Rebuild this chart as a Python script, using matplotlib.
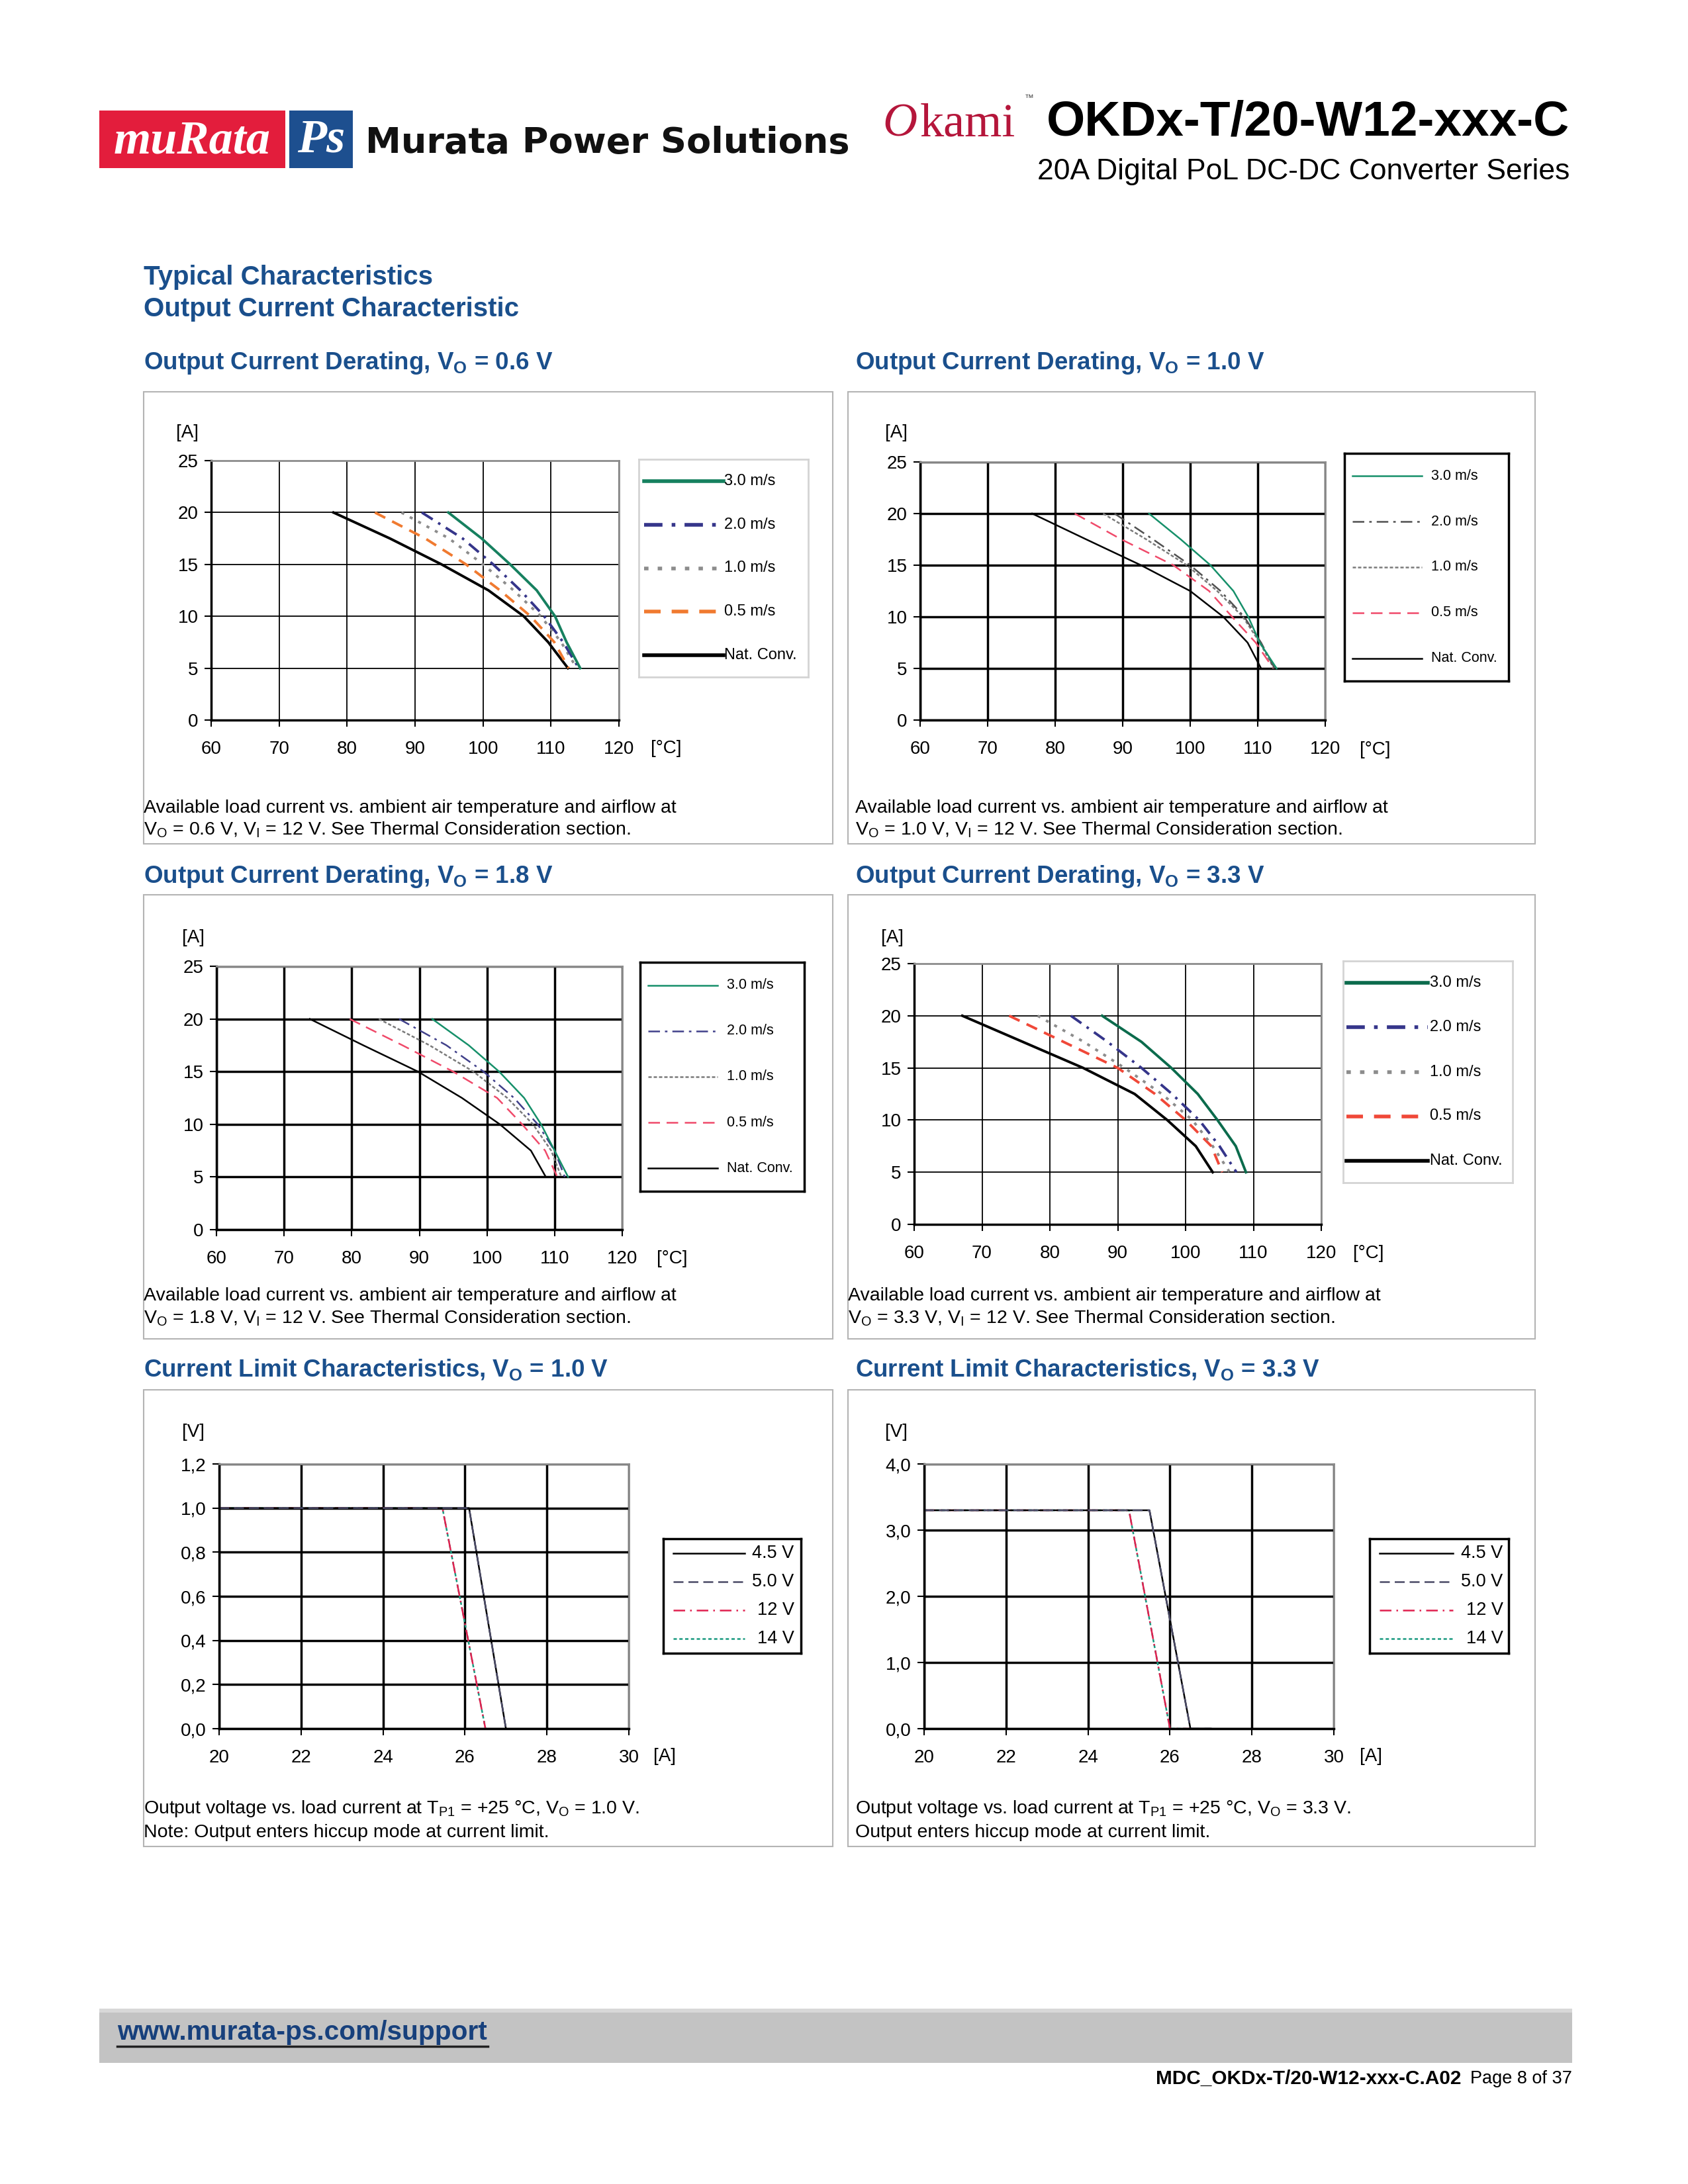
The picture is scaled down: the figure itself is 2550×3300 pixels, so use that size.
import matplotlib
matplotlib.use("Agg")
import matplotlib.pyplot as plt
from matplotlib.patches import Rectangle
from matplotlib.lines import Line2D

W, H = 2550, 3300

plt.rcParams['font.family'] = ['Liberation Sans', 'DejaVu Sans']
plt.rcParams['mathtext.fontset'] = 'custom'
plt.rcParams['mathtext.rm'] = 'Liberation Sans'
plt.rcParams['mathtext.it'] = 'Liberation Sans:italic'
plt.rcParams['mathtext.bf'] = 'Liberation Sans:bold'

BLUE = '#1a4f8c'

# ---------------- data ----------------
airflow = ['3.0 m/s', '2.0 m/s', '1.0 m/s', '0.5 m/s', 'Nat. Conv.']
derate_current = [20, 17.5, 15, 12.5, 10, 7.5, 5]   # [A]
temp_ticks = [60, 70, 80, 90, 100, 110, 120]
amp_ticks = [0, 5, 10, 15, 20, 25]

# ambient temperature [°C] at each current, Vo = 0.6 V
t06_30 = [94.9, 99.8, 104.0, 107.9, 110.6, 112.3, 114.3]
t06_20 = [91.0, 97.0, 101.5, 105.5, 109.0, 111.8, 114.1]
t06_10 = [88.0, 95.0, 100.0, 104.5, 108.5, 111.5, 113.8]
t06_05 = [84.1, 91.5, 97.5, 102.5, 107.0, 110.5, 112.6]
t06_nc = [78.0, 86.3, 93.9, 100.8, 106.0, 109.6, 112.5]

# Vo = 1.0 V
t10_30 = [93.9, 98.6, 103.0, 106.4, 108.6, 110.3, 112.8]
t10_20 = [88.8, 94.5, 100.0, 104.5, 108.0, 110.5, 112.5]
t10_10 = [87.1, 93.5, 99.5, 104.0, 107.8, 110.3, 112.4]
t10_05 = [82.9, 89.8, 97.5, 102.8, 106.2, 109.7, 112.3]
t10_nc = [76.6, 84.6, 92.7, 100.0, 104.9, 108.5, 110.5]

# Vo = 1.8 V
t18_30 = [91.9, 97.3, 101.8, 105.5, 108.0, 110.0, 112.0]
t18_20 = [87.0, 94.0, 99.5, 104.0, 107.5, 110.0, 111.5]
t18_10 = [84.0, 91.5, 98.0, 103.0, 106.8, 109.5, 111.0]
t18_05 = [79.7, 87.5, 95.0, 101.5, 105.2, 108.6, 110.4]
t18_nc = [73.8, 81.7, 89.8, 96.3, 101.9, 106.5, 108.7]

# Vo = 3.3 V
t33_30 = [87.7, 93.5, 97.9, 101.8, 104.7, 107.4, 108.9]
t33_20 = [83.1, 88.5, 93.5, 98.0, 102.0, 105.0, 107.5]
t33_10 = [78.2, 85.0, 91.0, 96.5, 101.0, 104.0, 106.5]
t33_05 = [74.0, 82.0, 90.0, 95.5, 100.0, 103.8, 105.4]
t33_nc = [67.1, 76.0, 84.9, 92.5, 97.3, 101.5, 104.0]

# current limit
vin = ['4.5 V', '5.0 V', '12 V', '14 V']
load_ticks = [20, 22, 24, 26, 28, 30]

cl10_i_low = [20, 26.1, 27.0]     # 4.5 V / 5.0 V input
cl10_i_high = [20, 25.45, 26.5]   # 12 V / 14 V input
cl10_v = [1.0, 1.0, 0.0]
cl10_yticks = [0, 0.2, 0.4, 0.6, 0.8, 1.0, 1.2]
cl10_ylabels = ['0,0', '0,2', '0,4', '0,6', '0,8', '1,0', '1,2']

cl33_i_low = [20, 25.5, 26.5, 27.0]
cl33_i_high = [20, 25.0, 26.0, 26.5]
cl33_v = [3.3, 3.3, 0.0, 0.0]
cl33_yticks = [0, 1, 2, 3, 4]
cl33_ylabels = ['0,0', '1,0', '2,0', '3,0', '4,0']

# ---------------- helpers ----------------
fig = plt.figure(figsize=(W / 100, H / 100), dpi=100)


def fbox(x0, y0, x1, y1):
    return [x0 / W, 1 - y1 / H, (x1 - x0) / W, (y1 - y0) / H]


def ftext(x, y, s, **kw):
    return fig.text(x / W, 1 - y / H, s, **kw)


def frame(x0, y0, x1, y1, ec='#b4b4b4', fc='none', lw=1.5):
    fig.patches.append(Rectangle((x0 / W, 1 - y1 / H), (x1 - x0) / W, (y1 - y0) / H,
                                 transform=fig.transFigure, fc=fc, ec=ec, lw=lw))


def fit_width(t, target):
    # shrink/grow a text so that it spans target pixels
    r = fig.canvas.get_renderer()
    w = t.get_window_extent(r).width
    t.set_fontsize(t.get_fontsize() * target / w)


def style_axes(ax, grid_lw, xticks, yticks, ylabels=None):
    ax.set_xticks(xticks)
    ax.set_yticks(yticks)
    if ylabels is not None:
        ax.set_yticklabels(ylabels)
    ax.grid(True, color='black', lw=grid_lw)
    ax.set_axisbelow(True)
    for s in ['top', 'right']:
        ax.spines[s].set_color('#8c8c8c')
        ax.spines[s].set_linewidth(2)
    for s in ['left', 'bottom']:
        ax.spines[s].set_color('black')
        ax.spines[s].set_linewidth(2.5)
    ax.tick_params(axis='x', direction='out', length=7, width=1.5, labelsize=20, pad=15)
    ax.tick_params(axis='y', direction='out', length=7, width=1.5, labelsize=20, pad=7)


def legend_box(box, labels, styles, fs, ec, elw, lx, tx, ha='left'):
    lax = fig.add_axes(fbox(*box))
    lax.set_xlim(0, 1)
    lax.set_ylim(0, 1)
    lax.set_xticks([])
    lax.set_yticks([])
    for s in lax.spines.values():
        s.set_color(ec)
        s.set_linewidth(elw)
    n = len(labels)
    for i, (lab, st) in enumerate(zip(labels, styles)):
        y = 1 - (i + 0.5) / n
        lax.add_line(Line2D(lx, [y, y], **st))
        lax.text(tx, y, lab, va='center', ha=ha, fontsize=fs)


def derating(box, temps, styles, grid_lw):
    ax = fig.add_axes(fbox(*box))
    for t, st in list(zip(temps, styles))[::-1]:
        ax.plot(t, derate_current, **st)
    ax.set_xlim(60, 120)
    ax.set_ylim(0, 25)
    style_axes(ax, grid_lw, temp_ticks, amp_ticks)
    return ax


# styles: heavy (Vo=0.6/3.3) and light (Vo=1.0/1.8)
def heavy_styles(c05):
    return [dict(color='#16805f', lw=2.8, ls='-'),
            dict(color='#35358a', lw=2.8, dashes=(5, 2.5, 1, 2.5)),
            dict(color='#8c8c8c', lw=2.8, dashes=(1.2, 2.5)),
            dict(color=c05, lw=2.8, dashes=(4.5, 3)),
            dict(color='black', lw=2.8, ls='-')]


def light_styles(c20):
    return [dict(color='#16906a', lw=1.8, ls='-'),
            dict(color=c20, lw=1.8, dashes=(7, 3, 1.5, 3)),
            dict(color='#7a7a7a', lw=1.8, dashes=(2, 1.2)),
            dict(color='#f04a6a', lw=1.8, dashes=(7, 4)),
            dict(color='black', lw=1.8, ls='-')]


def leg_heavy(st):
    return [dict(d, lw=4) for d in st]


# ---------------- header ----------------
frame(150, 167, 431, 254, ec='none', fc='#e31d3c')
frame(437, 167, 533, 254, ec='none', fc='#1d4f8f')
ftext(290, 214, 'muRata', color='white', fontsize=52, family='Liberation Serif',
      style='italic', weight='bold', ha='center', va='center')
ftext(485, 212, 'Ps', color='white', fontsize=52, family='Liberation Serif',
      style='italic', weight='bold', ha='center', va='center')
ftext(552, 216, 'Murata Power Solutions', fontsize=39, weight='bold',
      family=['DejaVu Sans'], ha='left', va='center', color='#111111')

ftext(1333, 188, 'O', fontsize=52, family='Liberation Serif', style='italic',
      color='#b5163b', ha='left', va='center')
ftext(1390, 188, 'kami', fontsize=52, family='Liberation Serif',
      color='#b5163b', ha='left', va='center')
ftext(1548, 148, '™', fontsize=10, color='#444444', ha='left', va='center')
t_model = ftext(2371, 185, 'OKDx-T/20-W12-xxx-C', fontsize=56, weight='bold',
                ha='right', va='center')
t_series = ftext(2371, 260, '20A Digital PoL DC-DC Converter Series', fontsize=32,
                 ha='right', va='center')
fit_width(t_model, 790)
fit_width(t_series, 805)

ftext(217, 419, 'Typical Characteristics', fontsize=29, weight='bold', color=BLUE, va='center')
ftext(217, 467, 'Output Current Characteristic', fontsize=29, weight='bold', color=BLUE, va='center')

# ---------------- panel frames and titles ----------------
for (x0, x1) in [(217, 1258), (1281, 2319)]:
    for (y0, y1) in [(592, 1275), (1352, 2023), (2100, 2790)]:
        frame(x0, y0, x1, y1)

titles = [(217, 548, r'Output Current Derating, V$_{\mathbf{O}}$ = 0.6 V'),
          (1292, 548, r'Output Current Derating, V$_{\mathbf{O}}$ = 1.0 V'),
          (217, 1325, r'Output Current Derating, V$_{\mathbf{O}}$ = 1.8 V'),
          (1292, 1325, r'Output Current Derating, V$_{\mathbf{O}}$ = 3.3 V'),
          (217, 2069, r'Current Limit Characteristics, V$_{\mathbf{O}}$ = 1.0 V'),
          (1292, 2069, r'Current Limit Characteristics, V$_{\mathbf{O}}$ = 3.3 V')]
for x, y, s in titles:
    ftext(x, y, s, fontsize=26.5, weight='bold', color=BLUE, va='center')

# ---------------- derating panels ----------------
st1 = heavy_styles('#f07a30')
derating((319, 696, 935, 1088), [t06_30, t06_20, t06_10, t06_05, t06_nc], st1, 1.3)
legend_box((965, 694, 1221, 1023), airflow, leg_heavy(st1), 17, '#d4d4d4', 2,
           (0.03, 0.50), 0.505)

st2 = light_styles('#505050')
derating((1390, 698, 2002, 1088), [t10_30, t10_20, t10_10, t10_05, t10_nc], st2, 2.5)
legend_box((2031, 685, 2279, 1029), airflow, st2, 15.5, 'black', 2.5, (0.05, 0.47), 0.53)

st3 = light_styles('#40408a')
derating((327, 1460, 940, 1858), [t18_30, t18_20, t18_10, t18_05, t18_nc], st3, 2.5)
legend_box((967, 1454, 1215, 1800), airflow, st3, 15.5, 'black', 2.5, (0.05, 0.47), 0.53)

st4 = heavy_styles('#f04838')
st4[0]['color'] = '#0b6b4c'
derating((1381, 1456, 1996, 1850), [t33_30, t33_20, t33_10, t33_05, t33_nc], st4, 1.3)
legend_box((2029, 1452, 2285, 1787), airflow, leg_heavy(st4), 17, '#d4d4d4', 2,
           (0.02, 0.50), 0.51)

unit_labels = [(283, 654, '[A]'), (1354, 654, '[A]'), (292, 1417, '[A]'), (1348, 1417, '[A]'),
               (1006, 1131, '[°C]'), (2077, 1133, '[°C]'), (1015, 1902, '[°C]'), (2067, 1894, '[°C]'),
               (292, 2164, '[V]'), (1354, 2164, '[V]'), (1004, 2654, '[A]'), (2071, 2654, '[A]')]
for x, y, s in unit_labels:
    ftext(x, y, s, fontsize=20, ha='center', va='center')

# ---------------- current limit panels ----------------
cl_styles = [dict(color='black', lw=1.8, ls='-'),
             dict(color='#4a4a66', lw=1.8, dashes=(6, 3)),
             dict(color='#e0204f', lw=1.8, dashes=(7, 3, 1, 3)),
             dict(color='#1a9a80', lw=1.8, dashes=(2, 1.5))]

ax5 = fig.add_axes(fbox(331, 2212, 950, 2612))
ax5.plot(cl10_i_high, cl10_v, **cl_styles[3])
ax5.plot(cl10_i_high, cl10_v, **cl_styles[2])
ax5.plot(cl10_i_low, cl10_v, **cl_styles[0])
ax5.plot(cl10_i_low, cl10_v, **cl_styles[1])
ax5.set_xlim(20, 30)
ax5.set_ylim(0, 1.2)
style_axes(ax5, 2.5, load_ticks, cl10_yticks, cl10_ylabels)
legend_box((1002, 2325, 1210, 2498), vin, cl_styles, 19.5, 'black', 2.5, (0.07, 0.59), 0.95, ha='right')

ax6 = fig.add_axes(fbox(1396, 2212, 2015, 2612))
ax6.plot(cl33_i_high, cl33_v, **cl_styles[3])
ax6.plot(cl33_i_high, cl33_v, **cl_styles[2])
ax6.plot(cl33_i_low, cl33_v, **cl_styles[0])
ax6.plot(cl33_i_low, cl33_v, **cl_styles[1])
ax6.set_xlim(20, 30)
ax6.set_ylim(0, 4)
style_axes(ax6, 2.5, load_ticks, cl33_yticks, cl33_ylabels)
legend_box((2069, 2325, 2279, 2498), vin, cl_styles, 19.5, 'black', 2.5, (0.07, 0.60), 0.96, ha='right')

# ---------------- captions ----------------
cap1 = 'Available load current vs. ambient air temperature and airflow at'
captions = [(217, 1221, 1254, cap1, r'V$_\mathrm{O}$ = 0.6 V, V$_\mathrm{I}$ = 12 V. See Thermal Consideration section.'),
            (1292, 1221, 1254, cap1, r'V$_\mathrm{O}$ = 1.0 V, V$_\mathrm{I}$ = 12 V. See Thermal Consideration section.'),
            (217, 1958, 1992, cap1, r'V$_\mathrm{O}$ = 1.8 V, V$_\mathrm{I}$ = 12 V. See Thermal Consideration section.'),
            (1281, 1958, 1992, cap1, r'V$_\mathrm{O}$ = 3.3 V, V$_\mathrm{I}$ = 12 V. See Thermal Consideration section.'),
            (217, 2733, 2769, r'Output voltage vs. load current at T$_\mathrm{P1}$ = +25 °C, V$_\mathrm{O}$ = 1.0 V.',
             'Note: Output enters hiccup mode at current limit.'),
            (1292, 2733, 2769, r'Output voltage vs. load current at T$_\mathrm{P1}$ = +25 °C, V$_\mathrm{O}$ = 3.3 V.',
             'Output enters hiccup mode at current limit.')]
for x, y1, y2, l1, l2 in captions:
    ftext(x, y1, l1, fontsize=20.5, va='center')
    ftext(x, y2, l2, fontsize=20.5, va='center')

# ---------------- footer ----------------
frame(150, 3035, 2375, 3117, ec='none', fc='#c3c3c3')
frame(150, 3035, 2375, 3041, ec='none', fc='#d8d8d8')
t_url = ftext(177, 3071, 'www.murata-ps.com/support', fontsize=29, weight='bold',
              color='#17407c', va='center')
fit_width(t_url, 558)
fig.add_artist(Line2D([177 / W, 737 / W], [1 - 3092 / H, 1 - 3092 / H], color='#222222',
                      lw=2.5, transform=fig.transFigure))
t_page = ftext(2375, 3141, 'Page 8 of 37', fontsize=21, ha='right', va='center')
fit_width(t_page, 154)
x_page = t_page.get_window_extent(fig.canvas.get_renderer()).x0
t_mdc = fig.text((x_page - 14) / W, 1 - 3141 / H, 'MDC_OKDx-T/20-W12-xxx-C.A02', fontsize=21,
                 weight='bold', ha='right', va='center')
fit_width(t_mdc, 460)

fig.savefig('out.png', dpi=100, facecolor='white')
